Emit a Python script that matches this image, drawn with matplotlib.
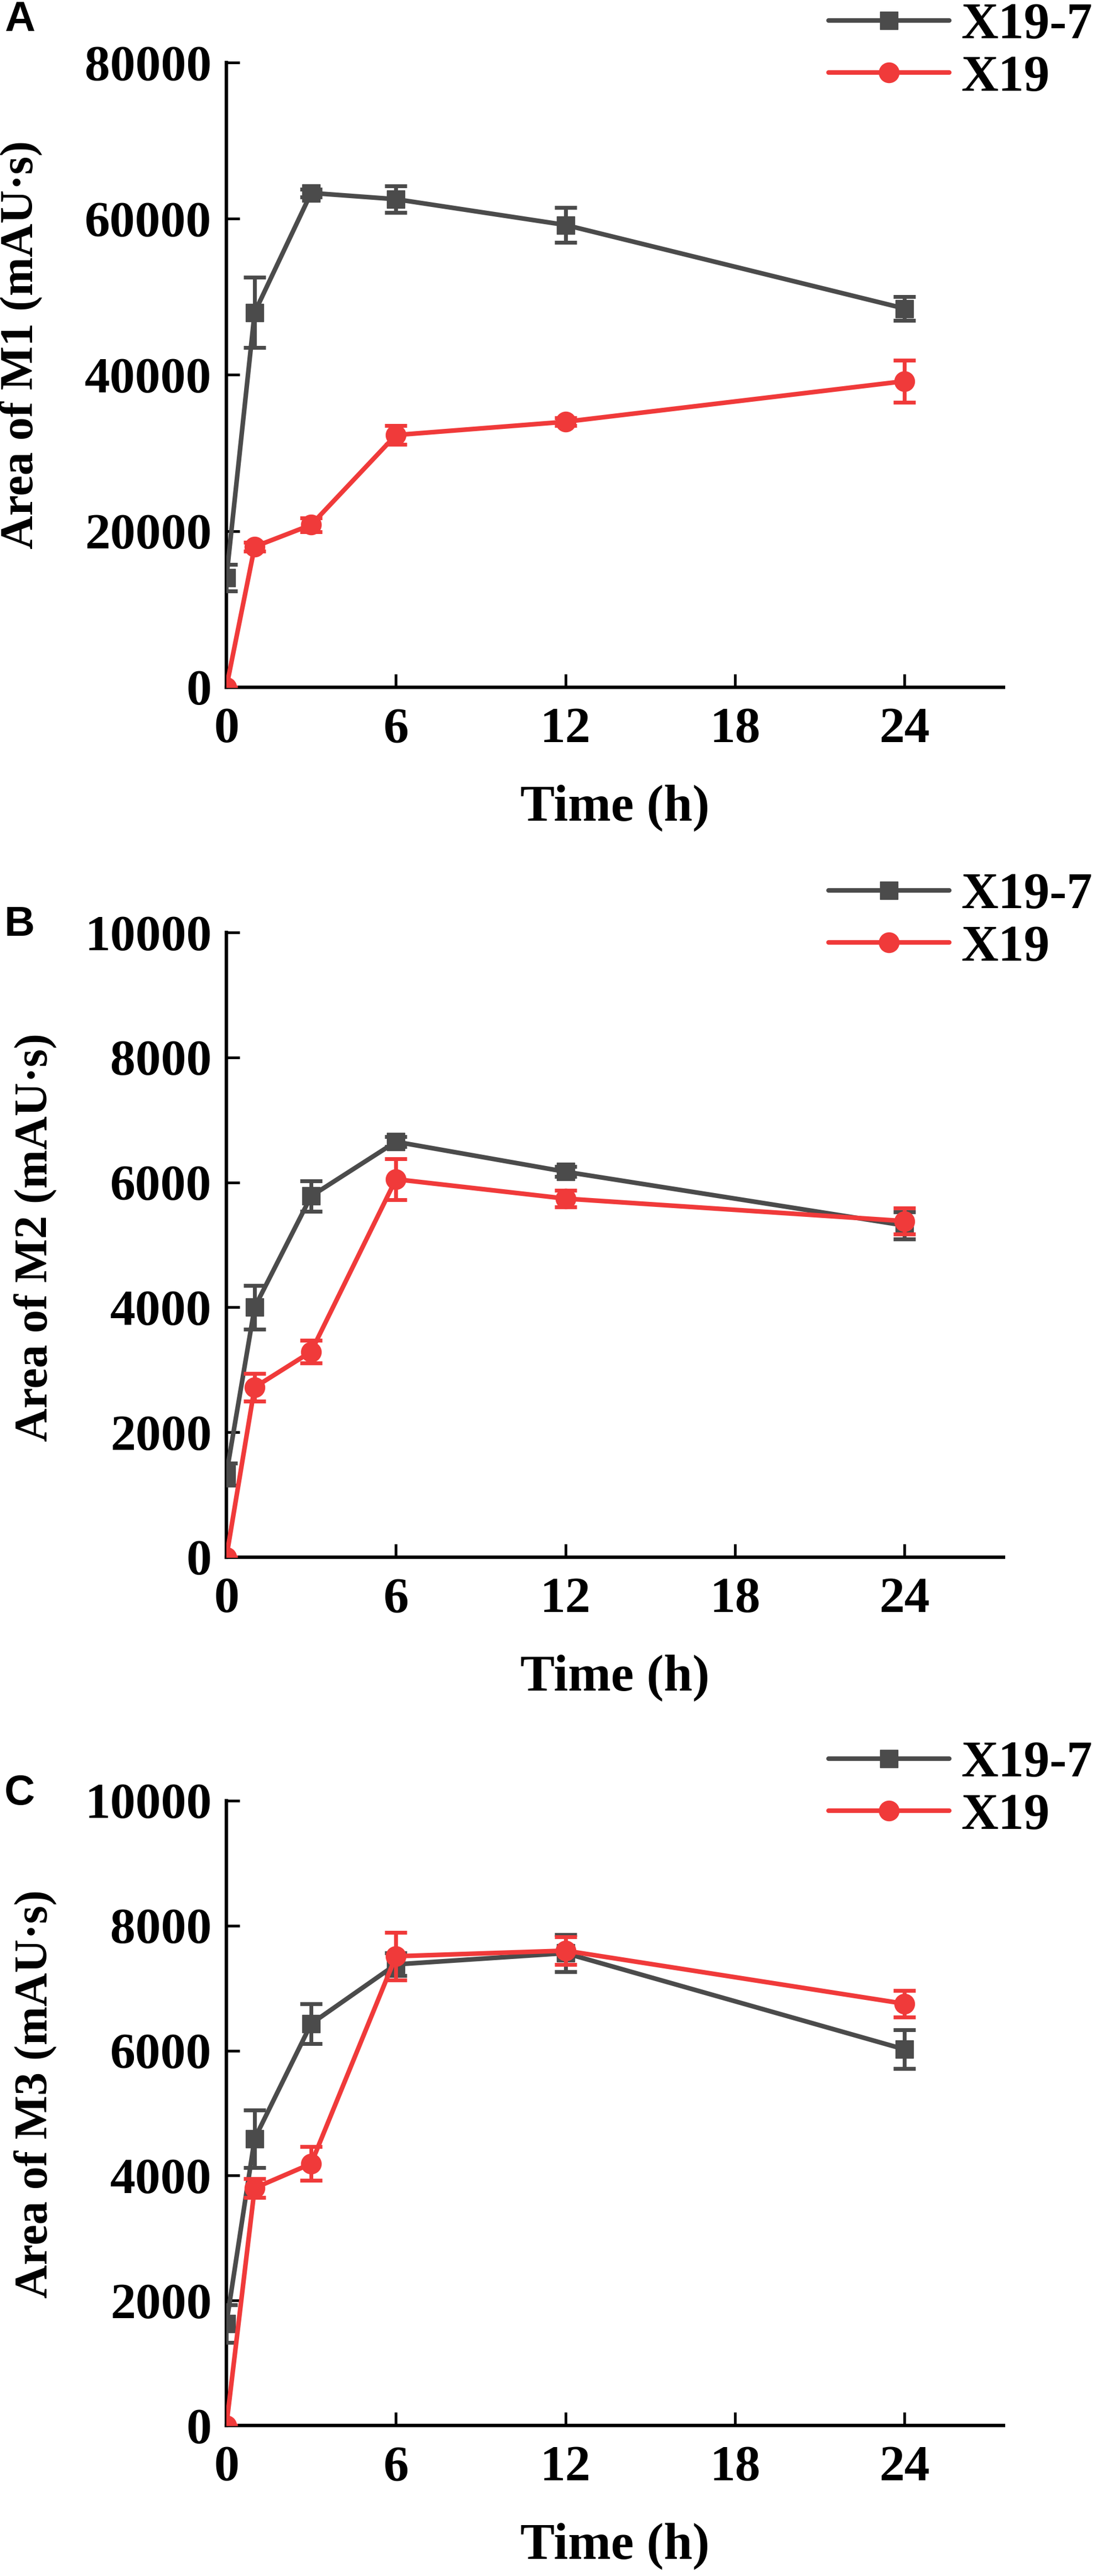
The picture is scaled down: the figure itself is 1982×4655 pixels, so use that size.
import numpy as np
import matplotlib
matplotlib.use("Agg")
import matplotlib.pyplot as plt

# --- data ---
time_h = [0, 1, 3, 6, 12, 24]
series_names = ["X19-7", "X19"]

m1_x197 = [14000, 48000, 63300, 62500, 59200, 48500]
m1_x197_err = [1700, 4500, 500, 1700, 2200, 1500]
m1_x19 = [0, 18000, 20800, 32300, 34000, 39200]
m1_x19_err = [0, 600, 900, 1200, 500, 2700]

m2_x197 = [1330, 4000, 5780, 6650, 6170, 5310]
m2_x197_err = [180, 350, 240, 80, 80, 220]
m2_x19 = [0, 2720, 3290, 6050, 5740, 5380]
m2_x19_err = [0, 220, 180, 330, 130, 210]

m3_x197 = [1630, 4590, 6430, 7380, 7560, 6020]
m3_x197_err = [300, 460, 320, 180, 300, 310]
m3_x19 = [0, 3800, 4190, 7510, 7600, 6750]
m3_x19_err = [0, 150, 270, 380, 220, 210]

x_ticks = [0, 6, 12, 18, 24]
m1_ticks = [0, 20000, 40000, 60000, 80000]
m23_ticks = [0, 2000, 4000, 6000, 8000, 10000]

panels = [
    ("A", "Area of M1 (mAU·s)", m1_x197, m1_x197_err, m1_x19, m1_x19_err, m1_ticks),
    ("B", "Area of M2 (mAU·s)", m2_x197, m2_x197_err, m2_x19, m2_x19_err, m23_ticks),
    ("C", "Area of M3 (mAU·s)", m3_x197, m3_x197_err, m3_x19, m3_x19_err, m23_ticks),
]

GRAY = "#4B4B4B"
RED = "#F03A3A"

plt.rcParams["font.family"] = ["Liberation Serif", "DejaVu Serif"]
plt.rcParams["font.weight"] = "bold"

W, H = 1983, 4655
fig = plt.figure(figsize=(W / 100, H / 100), dpi=100)

# axes placement (pixels in the reference)
ax_left, ax_right = 409, 1813
ax_tops = [113, 1685, 3254]
ax_h = 1129
ylabel_x = [-0.264, -0.246, -0.246]
ylabel_y = [0.548, 0.512, 0.531]
letter_y = [37, 1671, 3242]

for i, (letter, ylab, g, ge, r, re_, yt) in enumerate(panels):
    top = ax_tops[i]
    ax = fig.add_axes([ax_left / W, 1 - (top + ax_h) / H,
                       (ax_right - ax_left) / W, ax_h / H])

    hg = ax.errorbar(time_h, g, yerr=ge, color=GRAY, lw=6, marker="s", ms=22.5,
                     elinewidth=5, capsize=14.5, capthick=5, zorder=3)
    hr = ax.errorbar(time_h, r, yerr=re_, color=RED, lw=6, marker="o", ms=26,
                     elinewidth=5, capsize=14.5, capthick=5, zorder=4)
    for h in (hg, hr):
        h[0].set_solid_capstyle("round")
        h[0].set_solid_joinstyle("round")

    ax.set_xlim(0, 27.5)
    ax.set_ylim(yt[0], yt[-1])
    ax.set_xticks(x_ticks)
    ax.set_yticks(yt)

    for s in ["top", "right"]:
        ax.spines[s].set_visible(False)
    for s in ["left", "bottom"]:
        ax.spines[s].set_linewidth(4.5)

    ax.tick_params(axis="both", direction="in", length=17, width=3.5,
                   labelsize=66)
    ax.tick_params(axis="y", pad=19)
    ax.tick_params(axis="x", pad=26)
    for lab in ax.get_xticklabels() + ax.get_yticklabels():
        lab.set_fontweight("bold")

    ax.set_xlabel("Time (h)", fontsize=67, fontweight="bold", va="center")
    ax.xaxis.set_label_coords(0.5, -0.193)
    ax.set_ylabel(ylab, fontsize=60.5, fontweight="bold", va="center")
    ax.yaxis.set_label_coords(ylabel_x[i], ylabel_y[i])

    ax.legend([hg[0], hr[0]], series_names, loc="center left",
              bbox_to_anchor=(0.775, 1.017), frameon=False,
              prop={"family": "Liberation Serif", "weight": "bold", "size": 67},
              handlelength=2.34, handletextpad=0.23, labelspacing=0.1,
              borderpad=0, borderaxespad=0)

    fig.text(8 / W, 1 - letter_y[i] / H, letter, ha="left", va="center",
             fontsize=55, fontweight="bold", family="Liberation Sans")

fig.savefig("out.png", dpi=100)
